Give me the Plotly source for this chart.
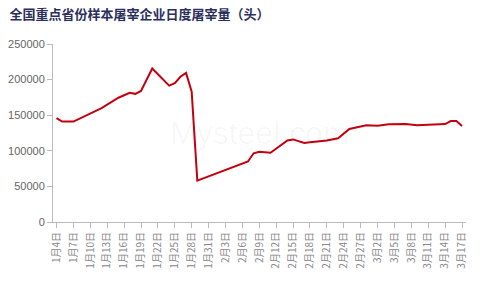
import plotly.graph_objects as go
import datetime as dt

title = "全国重点省份样本屠宰企业日度屠宰量（头）"

dates = [
    "2022-01-04", "2022-01-05", "2022-01-06", "2022-01-07", "2022-01-12",
    "2022-01-14", "2022-01-15", "2022-01-16", "2022-01-17", "2022-01-18",
    "2022-01-19", "2022-01-21", "2022-01-24", "2022-01-25", "2022-01-26",
    "2022-01-27", "2022-01-28", "2022-01-29", "2022-02-07", "2022-02-08",
    "2022-02-09", "2022-02-11", "2022-02-14", "2022-02-15", "2022-02-17",
    "2022-02-18", "2022-02-21", "2022-02-23", "2022-02-24", "2022-02-25",
    "2022-02-28", "2022-03-01", "2022-03-02", "2022-03-04", "2022-03-07",
    "2022-03-09", "2022-03-10", "2022-03-14", "2022-03-15", "2022-03-16",
    "2022-03-17",
]
values = [
    146000, 141000, 141000, 141000, 160000,
    170500, 174500, 178000, 181500, 180000,
    184000, 215500, 191500, 195000, 204000,
    209500, 183000, 58000, 85000, 96500,
    98700, 97300, 114500, 116000, 111000,
    112000, 114500, 117600, 124000, 130600,
    136000, 135800, 135300, 137200, 137600,
    135800, 136200, 137600, 141800, 141800,
    134800,
]

tick_dates = [dt.date(2022, 1, 4) + dt.timedelta(days=3 * i) for i in range(25)]
tick_vals = [d.isoformat() for d in tick_dates]
tick_text = [f"{d.month}月{d.day}日" for d in tick_dates]

fig = go.Figure()
fig.add_trace(go.Scatter(
    x=dates, y=values, mode="lines",
    line=dict(color="#c4000f", width=2),
    hoverinfo="skip",
))

fig.add_annotation(
    x=0.5, y=0.5, xref="paper", yref="paper",
    text="Mysteel.com", showarrow=False,
    font=dict(family="Arial", size=32, color="rgba(0,0,0,0.035)"),
)

fig.update_layout(
    width=480, height=288,
    margin=dict(l=53, r=14, t=44, b=66),
    paper_bgcolor="white", plot_bgcolor="white",
    showlegend=False,
    title=dict(
        text=f"<b>{title}</b>", x=0.02, xanchor="left", y=0.965, yanchor="top",
        font=dict(family="Noto Sans CJK SC", size=13, color="#2b2f5c"),
    ),
    xaxis=dict(
        type="date", automargin=False,
        range=["2022-01-03 09:00", "2022-03-17 17:00"],
        tickmode="array", tickvals=tick_vals, ticktext=tick_text,
        tickangle=-90, ticks="outside", ticklen=5, tickcolor="#bbbbbb",
        showline=True, linecolor="#bbbbbb", linewidth=1,
        showgrid=False, zeroline=False,
        tickfont=dict(family="Noto Sans CJK SC", size=10, color="#888888"),
    ),
    yaxis=dict(
        automargin=False,
        range=[0, 250000], tickvals=[0, 50000, 100000, 150000, 200000, 250000],
        tickformat="d",
        ticks="outside", ticklen=5, tickcolor="#bbbbbb",
        showline=True, linecolor="#bbbbbb", linewidth=1,
        showgrid=False, zeroline=False,
        tickfont=dict(family="Liberation Sans", size=11, color="#666666"),
    ),
)

fig.write_html("out.html")
